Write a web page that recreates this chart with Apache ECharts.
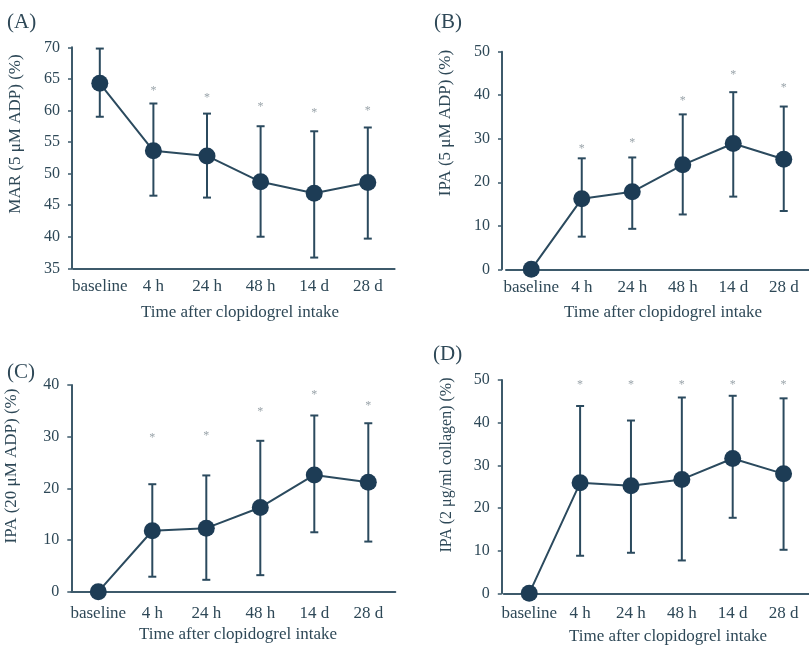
<!DOCTYPE html>
<html>
<head>
<meta charset="utf-8">
<script src="https://cdn.jsdelivr.net/npm/echarts@6/dist/echarts.min.js"></script>
<style>
  html, body { margin: 0; padding: 0; background: #fff; }
  #chart { width: 809px; height: 647px; }
</style>
</head>
<body>
<div id="chart"></div>
<script>
const categories = ['baseline', '4 h', '24 h', '48 h', '14 d', '28 d'];

// (A) MAR 5 uM ADP
const marMean = [64.3, 53.6, 52.8, 48.7, 46.9, 48.6];
const marLow = [59.0, 46.5, 46.2, 40.0, 36.7, 39.7];
const marHigh = [69.8, 61.1, 59.5, 57.5, 56.7, 57.3];
const marStar = [null, 63.6, 62.5, 61.1, 60.1, 60.4];

// (B) IPA 5 uM ADP
const ipa5Mean = [0, 16.2, 17.8, 24.0, 28.9, 25.3];
const ipa5Low = [null, 7.5, 9.3, 12.6, 16.7, 13.4];
const ipa5High = [null, 25.5, 25.7, 35.6, 40.7, 37.4];
const ipa5Star = [null, 28.3, 29.7, 39.5, 45.3, 42.3];

// (C) IPA 20 uM ADP
const ipa20Mean = [0, 11.8, 12.3, 16.3, 22.6, 21.2];
const ipa20Low = [null, 2.9, 2.3, 3.2, 11.5, 9.7];
const ipa20High = [null, 20.8, 22.5, 29.2, 34.1, 32.6];
const ipa20Star = [null, 30.3, 30.8, 35.3, 38.7, 36.6];

// (D) IPA 2 ug/ml collagen
const colMean = [0, 25.9, 25.2, 26.7, 31.6, 28.0];
const colLow = [null, 8.8, 9.5, 7.7, 17.7, 10.2];
const colHigh = [null, 43.9, 40.5, 45.9, 46.3, 45.7];
const colStar = [null, 49.6, 49.6, 49.5, 49.6, 49.6];

const yTicks = {
  A: { min: 35, max: 70, interval: 5 },
  B: { min: 0, max: 50, interval: 10 },
  C: { min: 0, max: 40, interval: 10 },
  D: { min: 0, max: 50, interval: 10 }
};

const FONT = '"Liberation Serif", "DejaVu Serif", serif';
const TEXT = '#2e4857';
const AXIS = '#3d5a6b';
const MARK = '#1d3c55';
const STAR = '#9aa4aa';

const panels = [
  { key: 'A', mean: marMean, low: marLow, high: marHigh, star: marStar,
    grid: { left: 73, top: 47.3, width: 321.6, height: 221 }, yOffset: 1, labelMargin: 10 },
  { key: 'B', mean: ipa5Mean, low: ipa5Low, high: ipa5High, star: ipa5Star,
    grid: { left: 506, top: 51.7, width: 307.8, height: 217.6 }, yOffset: 4, labelMargin: 10 },
  { key: 'C', mean: ipa20Mean, low: ipa20Low, high: ipa20High, star: ipa20Star,
    grid: { left: 71.3, top: 385, width: 324, height: 206.7 }, yOffset: 0, labelMargin: 13 },
  { key: 'D', mean: colMean, low: colLow, high: colHigh, star: colStar,
    grid: { left: 503.8, top: 380, width: 313.8, height: 213.3 }, yOffset: 2, labelMargin: 12 }
];

const grids = [], xAxes = [], yAxes = [], series = [];

panels.forEach(function (p, i) {
  grids.push(Object.assign({ containLabel: false }, p.grid));
  xAxes.push({
    type: 'category', gridIndex: i, data: categories, boundaryGap: true,
    axisLine: { lineStyle: { color: AXIS, width: 2 } },
    axisTick: { show: false },
    axisLabel: { color: TEXT, fontFamily: FONT, fontSize: 17, margin: p.labelMargin,
      interval: 0, hideOverlap: false }
  });
  yAxes.push({
    type: 'value', gridIndex: i, offset: p.yOffset,
    min: yTicks[p.key].min, max: yTicks[p.key].max, interval: yTicks[p.key].interval,
    axisLine: { show: true, lineStyle: { color: AXIS, width: 2 } },
    axisTick: { show: true, length: 4, lineStyle: { color: AXIS, width: 1.5 } },
    axisLabel: { color: TEXT, fontFamily: FONT, fontSize: 16, margin: 12 },
    splitLine: { show: false }
  });

  // error bars
  series.push({
    type: 'custom', xAxisIndex: i, yAxisIndex: i, z: 2,
    data: categories.map(function (c, j) { return [j, p.low[j], p.high[j]]; })
      .filter(function (d) { return d[1] != null; }),
    renderItem: function (params, api) {
      const lo = api.coord([api.value(0), api.value(1)]);
      const hi = api.coord([api.value(0), api.value(2)]);
      const w = 4;
      const st = { stroke: '#2b4a5e', lineWidth: 2 };
      return {
        type: 'group',
        children: [
          { type: 'line', shape: { x1: lo[0], y1: lo[1], x2: hi[0], y2: hi[1] }, style: st },
          { type: 'line', shape: { x1: lo[0] - w, y1: lo[1], x2: lo[0] + w, y2: lo[1] }, style: st },
          { type: 'line', shape: { x1: hi[0] - w, y1: hi[1], x2: hi[0] + w, y2: hi[1] }, style: st }
        ]
      };
    }
  });

  // mean line with markers
  series.push({
    type: 'line', xAxisIndex: i, yAxisIndex: i, z: 3,
    data: p.mean,
    symbol: 'circle', symbolSize: 17,
    lineStyle: { color: '#2b4a5e', width: 2 },
    itemStyle: { color: MARK },
    animation: false
  });

  // significance asterisks
  series.push({
    type: 'custom', xAxisIndex: i, yAxisIndex: i, z: 1,
    data: categories.map(function (c, j) { return [j, p.star[j]]; })
      .filter(function (d) { return d[1] != null; }),
    renderItem: function (params, api) {
      const pt = api.coord([api.value(0), api.value(1)]);
      return {
        type: 'text',
        x: pt[0], y: pt[1] + 3,
        style: { text: '*', fill: STAR, font: '12px ' + FONT, align: 'center', verticalAlign: 'middle' }
      };
    }
  });
});

function label(txt, x, y, size) {
  return { type: 'text', x: x, y: y,
    style: { text: txt, fill: TEXT, font: size + 'px ' + FONT, align: 'left', verticalAlign: 'middle' } };
}
function centered(txt, x, y, size, rot) {
  return { type: 'text', x: x, y: y, rotation: rot || 0,
    style: { text: txt, fill: TEXT, font: size + 'px ' + FONT, align: 'center', verticalAlign: 'middle' } };
}

const graphics = [
  label('(A)', 7, 22, 21),
  label('(B)', 434, 22, 21),
  label('(C)', 7, 372, 21),
  label('(D)', 433, 354, 21),
  centered('MAR (5 \u03bcM ADP) (%)', 16, 134, 17, Math.PI / 2),
  centered('IPA (5 \u03bcM ADP) (%)', 446, 123, 17, Math.PI / 2),
  centered('IPA (20 \u03bcM ADP) (%)', 12, 466, 17, Math.PI / 2),
  centered('IPA (2 \u03bcg/ml collagen) (%)', 447, 465, 16, Math.PI / 2),
  centered('Time after clopidogrel intake', 240, 313, 17),
  centered('Time after clopidogrel intake', 663, 313, 17),
  centered('Time after clopidogrel intake', 238, 635, 17),
  centered('Time after clopidogrel intake', 668, 637, 17)
];

const chart = echarts.init(document.getElementById('chart'));
chart.setOption({
  backgroundColor: '#ffffff',
  animation: false,
  grid: grids,
  xAxis: xAxes,
  yAxis: yAxes,
  series: series,
  graphic: graphics
});
</script>
</body>
</html>
